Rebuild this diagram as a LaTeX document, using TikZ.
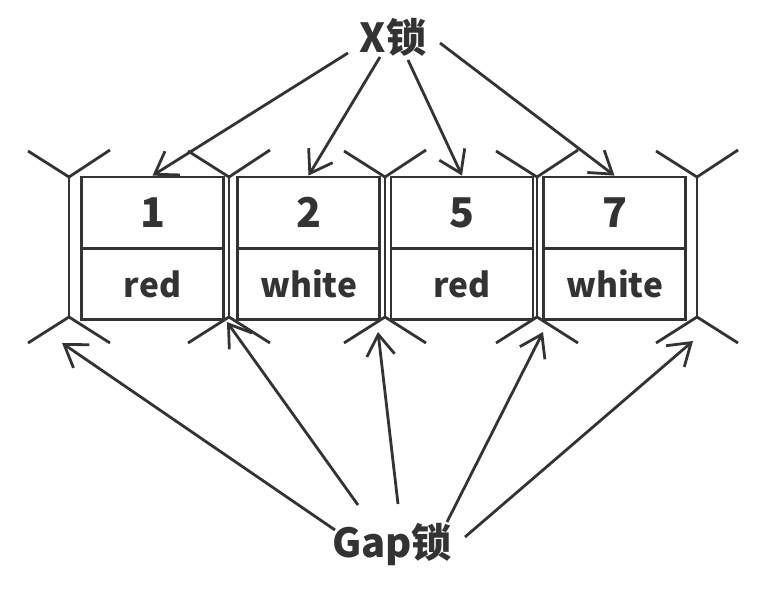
\documentclass[tikz,border=0pt]{standalone}
\usepackage{fontspec}
\setmainfont{Noto Sans CJK SC}
\usetikzlibrary{arrows.meta}
\definecolor{ink}{HTML}{333333}
\tikzset{
  cell/.style={draw=ink, line width=2.8pt, minimum width=142pt, minimum height=71pt,
    inner sep=0pt, text=ink, font=\bfseries},
  keycell/.style={cell, font=\bfseries\fontsize{41}{44}\selectfont},
  valcell/.style={cell, font=\bfseries\fontsize{33.5}{36}\selectfont},
  gapline/.style={draw=ink, line width=2.8pt},
  lockarrow/.style={draw=ink, line width=2.8pt, -{Straight Barb[length=21pt,width=28pt]}},
  lockname/.style={text=ink, inner sep=0pt, font=\bfseries\fontsize{40}{43}\selectfont}
}
\begin{document}
\begin{tikzpicture}[x=1pt,y=-1pt]
\useasboundingbox (0,0) rectangle (770,593);
\fill[white] (0,0) rectangle (770,593);

% index records: key on top, value below
\foreach \i/\cx/\k/\v in {1/152.5/1/red, 2/308.5/2/white, 3/462/5/red, 4/614.5/7/white}{
  \node[keycell] (k\i) at (\cx,212.5) {\k};
  \node[valcell] (v\i) at (\cx,284) {\v};
}

% gaps before, between and after the records
\foreach \j/\gx in {1/69, 2/229, 3/385, 4/537, 5/697}{
  \coordinate (gt\j) at (\gx,177);
  \coordinate (gb\j) at (\gx,317);
  \draw[gapline] (gt\j) -- (gb\j);
  \draw[gapline] (\gx-41,151) -- (gt\j) -- (\gx+41,150);
  \draw[gapline] (\gx-41,343) -- (gb\j) -- (\gx+41,343);
}

% labels
\node[lockname] (xl) at (393,37) {X锁};
\node[lockname] (gl) at (392,545) {Gap锁};

% X lock arrows onto the records
\coordinate (xs1) at (348,53);
\coordinate (xs2) at (380,57);
\coordinate (xs3) at (408,60);
\coordinate (xs4) at (440,43);
\draw[lockarrow] (xs1) -- (k1.north);
\draw[lockarrow] (xs2) -- (k2.north);
\draw[lockarrow] (xs3) -- (k3.north);
\draw[lockarrow] (xs4) -- (k4.north);

% gap lock arrows onto the gaps
\coordinate (gs1) at (335,530);
\coordinate (gs2) at (358,505);
\coordinate (gs3) at (398,504);
\coordinate (gs4) at (447,522);
\coordinate (gs5) at (465,537);
\coordinate (ge1) at (62,343);
\coordinate (ge2) at (227,322);
\coordinate (ge3) at (378,332);
\coordinate (ge4) at (543,332);
\coordinate (ge5) at (693,341);
\foreach \j in {1,...,5}{
  \draw[lockarrow] (gs\j) -- (ge\j);
}
\end{tikzpicture}
\end{document}
